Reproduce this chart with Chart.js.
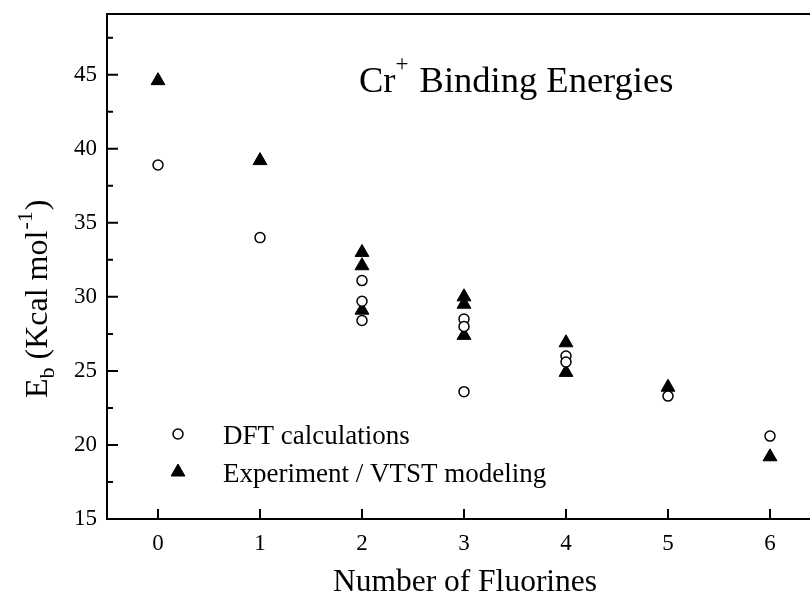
<!DOCTYPE html>
<html>
<head>
<meta charset="utf-8">
<script src="https://cdn.jsdelivr.net/npm/chart.js@4"></script>
<style>
html,body{margin:0;padding:0;background:#fff;overflow:hidden;width:810px;height:595px;}
canvas{display:block;}
</style>
</head>
<body>
<canvas id="c" width="830" height="595"></canvas>
<script>
// ---- data ----
const categories = [0, 1, 2, 3, 4, 5, 6];
const yTickValues = [15, 20, 25, 30, 35, 40, 45];
const dftX = [0, 1, 2, 2, 2, 3, 3, 3, 4, 4, 5, 6];
const dftY = [38.9, 34.0, 31.1, 29.7, 28.4, 28.5, 28.0, 23.6, 26.0, 25.6, 23.3, 20.6];
const expX = [0, 1, 2, 2, 2, 3, 3, 3, 4, 4, 5, 6];
const expY = [44.6, 39.2, 33.0, 32.1, 29.1, 30.0, 29.5, 27.4, 26.9, 24.9, 23.9, 19.2];
const seriesNames = ["DFT calculations", "Experiment / VTST modeling"];
const titleMain = "Cr";
const titleSup = "+";
const titleRest = " Binding Energies";
const xTitle = "Number of Fluorines";

const SERIF = "'Liberation Serif', 'Times New Roman', serif";

const decor = {
  id: 'decor',
  afterDraw(chart) {
    const ctx = chart.ctx;
    const a = chart.chartArea;
    const xs = chart.scales.x, ys = chart.scales.y;
    ctx.save();
    ctx.strokeStyle = '#000';
    ctx.lineWidth = 2;
    // top & right frame
    ctx.beginPath();
    ctx.moveTo(a.left - 1, a.top); ctx.lineTo(a.right + 1, a.top);
    ctx.moveTo(a.right, a.top); ctx.lineTo(a.right, a.bottom);
    ctx.stroke();
    // inward ticks
    ctx.beginPath();
    yTickValues.forEach(v => {
      const p = ys.getPixelForValue(v);
      ctx.moveTo(a.left, p); ctx.lineTo(a.left + 11, p);
      const pm = ys.getPixelForValue(v + 2.5);
      if (pm > a.top) { ctx.moveTo(a.left, pm); ctx.lineTo(a.left + 6, pm); }
    });
    categories.forEach(c => {
      const p = xs.getPixelForValue(c);
      ctx.moveTo(p, a.bottom); ctx.lineTo(p, a.bottom - 10);
    });
    ctx.stroke();

    ctx.fillStyle = '#000';
    // main title
    ctx.textBaseline = 'alphabetic';
    ctx.textAlign = 'left';
    ctx.font = '36.5px ' + SERIF;
    let tx = 359, ty = 92;
    ctx.fillText(titleMain, tx, ty);
    tx += ctx.measureText(titleMain).width;
    ctx.font = '23px ' + SERIF;
    ctx.fillText(titleSup, tx, ty - 21);
    tx += ctx.measureText(titleSup).width + 2;
    ctx.font = '36.5px ' + SERIF;
    ctx.fillText(titleRest, tx, ty);

    // x axis title
    ctx.textAlign = 'center';
    ctx.font = '31.5px ' + SERIF;
    ctx.fillText(xTitle, 465, 591);

    // y axis title (rotated)
    ctx.save();
    ctx.translate(47, 398);
    ctx.rotate(-Math.PI / 2);
    ctx.textAlign = 'left';
    let yx = 0;
    ctx.font = '32px ' + SERIF;
    ctx.fillText('E', yx, 0); yx += ctx.measureText('E').width;
    ctx.font = '22px ' + SERIF;
    ctx.fillText('b', yx, 7); yx += ctx.measureText('b').width;
    ctx.font = '32px ' + SERIF;
    const mid = ' (Kcal mol';
    ctx.fillText(mid, yx, 0); yx += ctx.measureText(mid).width;
    ctx.font = '22px ' + SERIF;
    ctx.fillText('-1', yx + 1, -15); yx += ctx.measureText('-1').width + 2;
    ctx.font = '32px ' + SERIF;
    ctx.fillText(')', yx, 0);
    ctx.restore();

    // legend
    const items = chart.data.datasets;
    const lx = 178, ly = [434, 472], textX = 223;
    items.forEach((ds, i) => {
      ctx.fillStyle = ds.backgroundColor; ctx.strokeStyle = ds.borderColor; ctx.lineWidth = ds.borderWidth;
      Chart.helpers.drawPoint(ctx, {
        pointStyle: ds.pointStyle, radius: ds.pointRadius, borderWidth: ds.borderWidth, rotation: 0
      }, lx, ly[i]);
      ctx.fillStyle = '#000';
      ctx.font = '27px ' + SERIF;
      ctx.textAlign = 'left';
      ctx.textBaseline = 'middle';
      ctx.fillText(seriesNames[i], textX, ly[i] + 3);
    });
    ctx.restore();
  }
};

new Chart(document.getElementById('c'), {
  type: 'scatter',
  data: {
    datasets: [
      {
        label: seriesNames[0],
        data: dftX.map((x, i) => ({ x: x, y: dftY[i] })),
        pointStyle: 'circle', pointRadius: 5, pointHoverRadius: 5,
        backgroundColor: '#fff', borderColor: '#000', borderWidth: 1.5
      },
      {
        label: seriesNames[1],
        data: expX.map((x, i) => ({ x: x, y: expY[i] })),
        pointStyle: 'triangle', pointRadius: 8, pointHoverRadius: 8,
        backgroundColor: '#000', borderColor: '#000', borderWidth: 1
      }
    ]
  },
  options: {
    responsive: false,
    animation: false,
    events: [],
    layout: { padding: { left: 0, top: 14, right: 9, bottom: 0 } },
    plugins: { legend: { display: false }, tooltip: { enabled: false }, title: { display: false } },
    scales: {
      x: {
        type: 'linear', min: -0.5, max: 6.5,
        afterBuildTicks: s => { s.ticks = categories.map(v => ({ value: v })); },
        afterFit: s => { s.height = 76; s.paddingLeft = 0; s.paddingRight = 0; },
        grid: { display: false, drawTicks: false },
        border: { display: true, color: '#000', width: 2 },
        ticks: { color: '#000', padding: 11, font: { family: SERIF, size: 23 }, maxRotation: 0 }
      },
      y: {
        type: 'linear', min: 15, max: 49.1,
        afterBuildTicks: s => { s.ticks = yTickValues.map(v => ({ value: v })); },
        afterFit: s => { s.width = 107; s.paddingTop = 0; s.paddingBottom = 0; },
        grid: { display: false, drawTicks: false },
        border: { display: true, color: '#000', width: 2 },
        ticks: { color: '#000', padding: 10, font: { family: SERIF, size: 23 } }
      }
    }
  },
  plugins: [decor]
});
</script>
</body>
</html>
